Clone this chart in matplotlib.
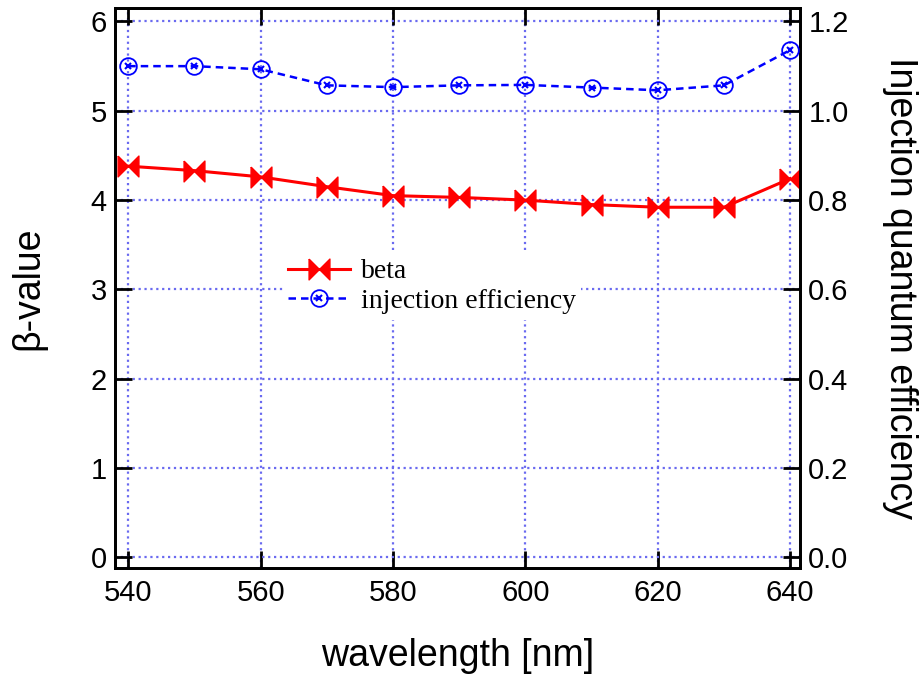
import matplotlib.pyplot as plt
import numpy as np
from matplotlib.legend_handler import HandlerTuple

# Данные
wavelength = [540, 550, 560, 570, 580, 590, 600, 610, 620, 630, 640]
beta = [4.38, 4.33, 4.26, 4.15, 4.05, 4.03, 4.00, 3.95, 3.92, 3.92, 4.24]
inj_eff = [1.100, 1.100, 1.093, 1.057, 1.053, 1.057, 1.058, 1.052, 1.046, 1.057, 1.136]

x_ticks = [540, 560, 580, 600, 620, 640]
y_ticks = [0, 1, 2, 3, 4, 5, 6]
y2_ticks = [0.0, 0.2, 0.4, 0.6, 0.8, 1.0, 1.2]

plt.rcParams['font.family'] = ['Liberation Sans', 'DejaVu Sans']

fig = plt.figure(figsize=(9.2, 6.75), dpi=100)
ax = fig.add_axes([0.125, 0.1585, 0.7446, 0.8295])
ax2 = ax.twinx()

grid_color = '#6a6af0'

# Маркер "бабочка"
bowtie = [(-1, 1), (0, 0), (1, 1), (1, -1), (0, 0), (-1, -1), (-1, 1)]

l1, = ax.plot(wavelength, beta, color='red', lw=2.2, marker=bowtie,
              markersize=15, markerfacecolor='red', markeredgecolor='red', zorder=3)

l2, = ax2.plot(wavelength, inj_eff, color='blue', lw=1.8, ls=(0, (3, 2)),
               marker='o', markersize=12, markerfacecolor='none',
               markeredgecolor='blue', markeredgewidth=1.3, zorder=3)
l3, = ax2.plot(wavelength, inj_eff, ls='none', marker='x', markersize=4.5,
               markeredgecolor='blue', markeredgewidth=1.5, zorder=4)

ax.set_xlim(538, 641.5)
ax.set_ylim(-0.12, 6.15)
ax2.set_ylim(-0.12 / 5, 6.15 / 5)

ax.set_xticks(x_ticks)
ax.set_yticks(y_ticks)
ax2.set_yticks(y2_ticks)
ax2.set_yticklabels(['%.1f' % v for v in y2_ticks])

ax.grid(True, color=grid_color, ls=':', lw=1.6)

ax.tick_params(axis='both', direction='in', length=12, width=2, labelsize=21,
               top=True, pad=6)
ax.tick_params(axis='x', pad=8)
ax2.tick_params(axis='y', direction='in', length=12, width=2, labelsize=21, pad=6)
for s in ax.spines.values():
    s.set_linewidth(2)
for s in ax2.spines.values():
    s.set_linewidth(2)

ax.set_xlabel('wavelength [nm]', fontsize=27, labelpad=22)
ax.set_ylabel('β-value', fontsize=27, labelpad=32)
ax2.set_ylabel('Injection quantum efficiency', fontsize=27, rotation=270, labelpad=50)

# Легенда
leg = ax2.legend([l1, (l2, l3)], ['beta', 'injection efficiency'],
                 handler_map={tuple: HandlerTuple(ndivide=1, pad=0)},
                 loc='center', bbox_to_anchor=(0.4696, 0.5756),
                 bbox_transform=fig.transFigure,
                 prop={'family': 'Liberation Serif', 'size': 20},
                 frameon=True, facecolor='white', edgecolor='none', framealpha=1,
                 handlelength=2.2, handletextpad=0.4, labelspacing=0.15, borderpad=0.2)

fig.savefig('out.png', dpi=100)
